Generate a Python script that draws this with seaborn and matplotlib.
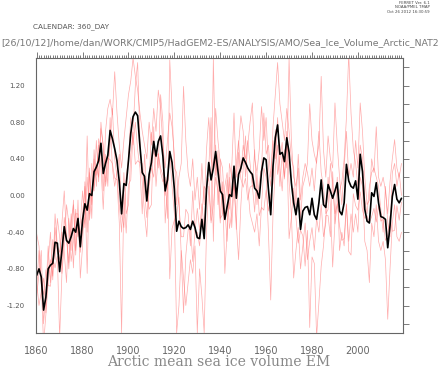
import numpy as np
import pandas as pd
import matplotlib
matplotlib.use("Agg")
import matplotlib.pyplot as plt
import seaborn as sns
from matplotlib.ticker import MultipleLocator, FixedLocator, FormatStrFormatter

# Arctic sea ice volume anomaly, annual, 1860-2019
years = list(range(1860, 2020))

# ensemble mean (black)
ens_mean = [
    -0.87, -0.80, -0.89, -1.25, -1.11, -0.80, -0.76, -0.74, -0.51, -0.52,
    -0.83, -0.60, -0.34, -0.49, -0.52, -0.45, -0.36, -0.40, -0.25, -0.56,
    -0.27, -0.09, -0.16, 0.02, 0.00, 0.26, 0.31, 0.38, 0.57, 0.24,
    0.35, 0.44, 0.71, 0.62, 0.51, 0.38, 0.15, -0.20, 0.13, 0.11,
    0.38, 0.68, 0.86, 0.91, 0.87, 0.54, 0.25, 0.21, -0.06, 0.23,
    0.36, 0.59, 0.43, 0.59, 0.65, 0.43, 0.05, 0.17, 0.48, 0.36,
    0.07, -0.39, -0.28, -0.34, -0.36, -0.35, -0.32, -0.37, -0.28, -0.35,
    -0.46, -0.47, -0.26, -0.47, 0.06, 0.36, 0.17, 0.30, 0.48, 0.26,
    0.05, 0.01, -0.26, -0.12, 0.01, -0.01, 0.32, -0.03, 0.23, 0.30,
    0.41, 0.36, 0.30, 0.26, 0.23, 0.08, 0.05, -0.03, 0.26, 0.41,
    0.39, 0.07, -0.21, 0.32, 0.63, 0.77, 0.45, 0.47, 0.37, 0.63,
    0.47, 0.14, -0.08, -0.21, -0.03, -0.37, -0.17, -0.13, -0.12, -0.21,
    -0.03, -0.21, -0.26, -0.08, 0.17, -0.10, -0.13, 0.12, 0.05, -0.03,
    0.05, 0.14, -0.17, -0.21, -0.08, 0.34, 0.16, 0.10, 0.08, 0.16,
    -0.04, 0.45, 0.26, -0.15, -0.28, -0.30, 0.03, -0.01, 0.14, -0.08,
    -0.23, -0.24, -0.26, -0.57, -0.33, -0.01, 0.12, -0.04, -0.08, -0.03,
]

# individual ensemble members (red)
member1 = [
    -0.42, -0.55, -0.98, -1.62, -1.30, -0.95, -0.70, -0.88, -0.35, -0.62,
    -0.70, -0.30, 0.05, -0.45, -0.80, -0.28, -0.10, -0.65, -0.05, -0.90,
    -0.55, 0.15, -0.40, 0.30, -0.25, 0.50, 0.10, 0.62, 0.45, 0.05,
    0.70, 0.95, 1.05, 0.88, 1.35, 0.90, 0.55, 0.30, 0.60, 0.85,
    1.10, 1.25, 1.50, 1.30, 1.15, 0.90, 0.70, 0.55, 0.40, 0.80,
    0.55, 0.95, 0.70, 1.15, 0.95, 0.55, 0.30, 0.60, 0.90, 0.75,
    0.45, -0.10, 0.20, 0.35, 1.19, 0.60, 0.25, 0.10, 0.40, -0.05,
    0.20, -0.15, 0.35, -0.10, 0.50, 0.85, 0.40, 0.30, 0.95, 0.60,
    0.35, -0.20, 0.10, 0.25, -0.15, 0.30, 0.90, 0.20, 0.55, 0.87,
    0.70, 0.20, 0.55, 0.80, 1.01, 0.40, 0.25, 0.50, 0.97, 0.60,
    0.85, 0.30, 0.10, 0.75, 1.10, 1.45, 1.00, 0.80, 0.60, 0.95,
    0.70, 0.40, 0.30, -0.10, 0.45, -0.05, 0.20, 0.35, 0.25, 0.10,
    0.30, 0.05, 0.40, 0.55, 1.30, 0.50, 0.20, 0.65, 0.40, 0.30,
    1.01, 0.55, 0.20, -0.10, 0.30, 0.70, 0.20, 0.35, 0.20, 0.60,
    0.30, 1.01, 0.70, 0.20, -0.10, -0.05, 0.40, 0.25, 0.75, 0.20,
    0.10, 0.20, 0.05, -0.20, 0.15, 0.40, 0.61, 0.30, 0.20, 0.35,
]
member2 = [
    -1.10, -0.85, -0.60, -1.40, -1.05, -0.55, -0.95, -0.48, -0.70, -0.25,
    -0.45, -0.85, -0.55, -0.10, -0.30, -0.72, -0.50, -0.15, -0.45, -0.30,
    0.05, -0.35, 0.20, -0.20, 0.35, 0.05, 0.60, 0.15, 0.80, 0.50,
    0.10, 0.30, 0.55, 0.95, 0.40, 0.20, -0.10, -0.40, 0.25, -0.20,
    -0.10, 0.45, 0.70, 1.20, 1.45, 0.60, 0.15, -0.20, -0.45, 0.10,
    0.30, 0.20, 0.50, 0.30, 1.10, 0.80, -0.30, 0.10, 0.45, 0.10,
    -0.20, -1.50, -1.20, -0.60, -0.90, -1.20, -0.95, -0.70, -0.85, -0.55,
    -1.50, -0.80, -1.10, -1.50, -0.40, 0.10, -0.30, -0.10, 0.20, 0.05,
    -0.30, 0.15, -0.85, -0.40, 0.20, -0.35, 0.10, -0.30, -0.70, -0.10,
    0.30, 0.65, 0.10, -0.20, -0.30, -0.40, -0.20, -0.55, -0.10, 0.30,
    0.20, -0.40, -1.14, -0.20, 0.30, 0.55, 0.10, 0.45, 0.20, 0.70,
    0.15, -0.20, -0.90, -0.60, -0.35, -0.80, -0.55, -0.30, -0.70, -0.50,
    -0.35, -0.60, -0.25, -0.40, -0.10, -0.45, -0.30, 0.20, -0.10, -0.78,
    -0.30, 0.20, -0.60, -0.40, -0.55, -0.10, -0.50, -0.20, -0.40, -0.20,
    -0.40, 0.20, 0.10, -0.50, -0.60, -0.95, -0.30, -0.45, -0.10, -0.50,
    -0.60, -0.50, -0.70, -1.35, -0.80, -0.30, -0.10, -0.45, -0.50, -0.40,
]
member3 = [
    -0.95, -1.20, -1.05, -0.90, -1.28, -0.72, -0.40, -0.92, -0.20, -0.55,
    -0.62, -0.40, -0.62, -0.95, -0.25, -0.60, -0.05, -0.60, -0.30, -0.42,
    -0.20, 0.10, -0.85, 0.25, -0.10, 0.40, 0.22, 0.55, 0.30, -0.15,
    0.45, 0.10, 0.85, 0.30, 0.10, 0.25, 0.45, -0.20, -0.35, 0.20,
    0.40, 0.85, 0.55, 0.80, 0.50, 0.30, -0.20, 0.45, 0.05, -0.15,
    -0.10, 0.75, 0.10, 0.45, 0.25, 0.15, 0.20, -0.25, 1.48, 0.95,
    0.30, 0.25, -0.10, -0.45, -0.45, -0.15, -0.20, -0.55, 0.05, -0.40,
    -0.40, -0.55, -0.20, 0.10, 0.05, 0.30, 0.85, -0.50, 0.55, -0.10,
    0.40, 0.30, -0.15, -0.50, 0.35, 0.20, 0.05, 0.35, 0.60, 0.25,
    0.55, 0.40, 0.60, 0.35, 0.10, 0.50, -0.10, 0.15, 0.30, 0.90,
    0.45, 0.55, 0.20, 0.60, 0.40, 0.85, 0.30, 0.05, 0.50, 0.30,
    1.50, 0.60, 0.20, 0.10, 0.30, -0.25, 0.10, 0.20, 0.35, 1.00,
    0.60, 0.45, 0.35, 0.70, 0.25, 0.10, -0.20, -0.15, 0.35, 0.10,
    -0.20, -0.10, 0.05, 0.15, 0.40, 0.85, 1.55, 0.90, 0.50, 0.35,
    0.10, 0.55, 0.40, -0.05, -0.20, 0.10, 0.25, 0.30, 0.20, 0.10,
    -0.15, -0.40, 0.10, -0.30, -0.45, 0.25, 0.35, 0.10, 0.25, 0.00,
]
member4 = [
    -1.01, -0.60, -0.93, -1.08, -0.81, -0.98, -0.99, -0.68, -0.79, -0.66,
    -1.55, -0.85, -0.24, -0.46, -0.73, -0.20, -0.79, -0.20, -0.20, -0.62,
    -0.38, -0.26, 0.65, -0.27, 0.00, 0.09, 0.32, 0.20, 0.73, 0.56,
    0.15, 0.41, 0.39, 0.35, 0.19, 0.17, -0.30, -1.50, 0.02, -0.41,
    0.12, 0.17, 0.69, 0.34, 0.38, 0.36, 0.35, 0.04, -0.24, 0.17,
    0.69, 0.46, 0.42, 0.46, 0.30, 0.22, 0.00, 0.23, -0.91, -0.36,
    -0.27, -0.21, -0.02, -0.66, -1.28, -0.65, -0.38, -0.33, -0.72, -0.40,
    -0.14, -0.38, -0.09, -0.38, 0.09, 0.19, -0.27, 1.50, 0.22, 0.49,
    -0.25, -0.21, -0.14, 0.17, -0.36, -0.19, 0.23, -0.37, 0.47, 0.18,
    0.09, 0.19, -0.05, 0.09, 0.11, -0.18, 0.25, -0.22, -0.13, -0.16,
    0.06, -0.17, 0.00, 0.13, 0.72, 0.23, 0.40, 0.58, 0.18, 0.57,
    -0.47, -0.24, 0.08, -0.24, -0.52, -0.38, -0.44, -0.77, -0.38, -1.44,
    -0.67, -0.74, -1.54, -1.17, -0.77, -0.55, -0.22, -0.22, -0.45, 0.26,
    -0.31, -0.09, -0.33, -0.49, -0.47, -0.09, -0.61, -0.65, 0.02, -0.11,
    -0.16, 0.04, -0.16, -0.25, -0.22, -0.30, -0.23, -0.14, -0.29, -0.12,
    -0.28, -0.26, -0.49, -0.43, -0.22, -0.39, -0.38, -0.11, -0.27, -0.07,
]

members = {"m1": member1, "m2": member2, "m3": member3, "m4": member4}

df = pd.DataFrame(members)
df["year"] = years
df = df.melt(id_vars="year", var_name="member", value_name="volume")

sns.set_style("white")
plt.rcParams["axes.unicode_minus"] = False

fig = plt.figure(figsize=(4.44, 3.74), dpi=100)
ax = fig.add_axes([0.0811, 0.1096, 0.8273, 0.7353])

red = (1.0, 0.45, 0.45)
sns.lineplot(data=df, x="year", y="volume", hue="member", units="member",
             estimator=None, palette=[red] * 4, lw=0.5, alpha=0.6,
             legend=False, ax=ax)
sns.lineplot(x=years, y=ens_mean, color="black", lw=1.2, ax=ax)

ax.set_xlim(1859.7, 2019.8)
ax.set_ylim(-1.5, 1.5)
ax.set_xlabel("")
ax.set_ylabel("")

# x ticks: labels every 20 yrs, small ticks every year
ax.xaxis.set_major_locator(MultipleLocator(20))
ax.xaxis.set_minor_locator(MultipleLocator(1))
ax.yaxis.set_major_locator(FixedLocator([-1.2, -0.8, -0.4, 0.0, 0.4, 0.8, 1.2]))
ax.yaxis.set_minor_locator(MultipleLocator(0.2))
ax.yaxis.set_major_formatter(FormatStrFormatter("%.2f"))

ax.tick_params(axis="both", which="both", direction="out", top=True, right=True,
               labeltop=False, labelright=False, color="#666666", width=0.6)
ax.tick_params(axis="x", which="major", length=4, labelsize=7, labelcolor="#666666", pad=5)
ax.tick_params(axis="x", which="minor", length=2)
ax.tick_params(axis="y", which="both", length=4, labelsize=5, labelcolor="#555555", pad=4)

for sp in ax.spines.values():
    sp.set_color("#666666")
    sp.set_linewidth(0.8)

fig.text(0.968, 0.997, "FERRET Ver. 6.1\nNOAA/PMEL TMAP\nOct 26 2012 16:30:59",
         ha="right", va="top", fontsize=2.8, color="#444444", linespacing=1.1)
fig.text(0.074, 0.930, "CALENDAR: 360_DAY", ha="left", va="center",
         fontsize=5.2, color="#555555")
fig.text(0.003, 0.885,
         "[26/10/12]/home/dan/WORK/CMIP5/HadGEM2-ES/ANALYSIS/AMO/Sea_Ice_Volume_Arctic_NAT2",
         ha="left", va="center", fontsize=6.75, color="#777777")
fig.text(0.493, 0.032, "Arctic mean sea ice volume EM", ha="center", va="center",
         fontsize=10, color="#888888", family="DejaVu Serif")

fig.savefig("out.png", dpi=100)
